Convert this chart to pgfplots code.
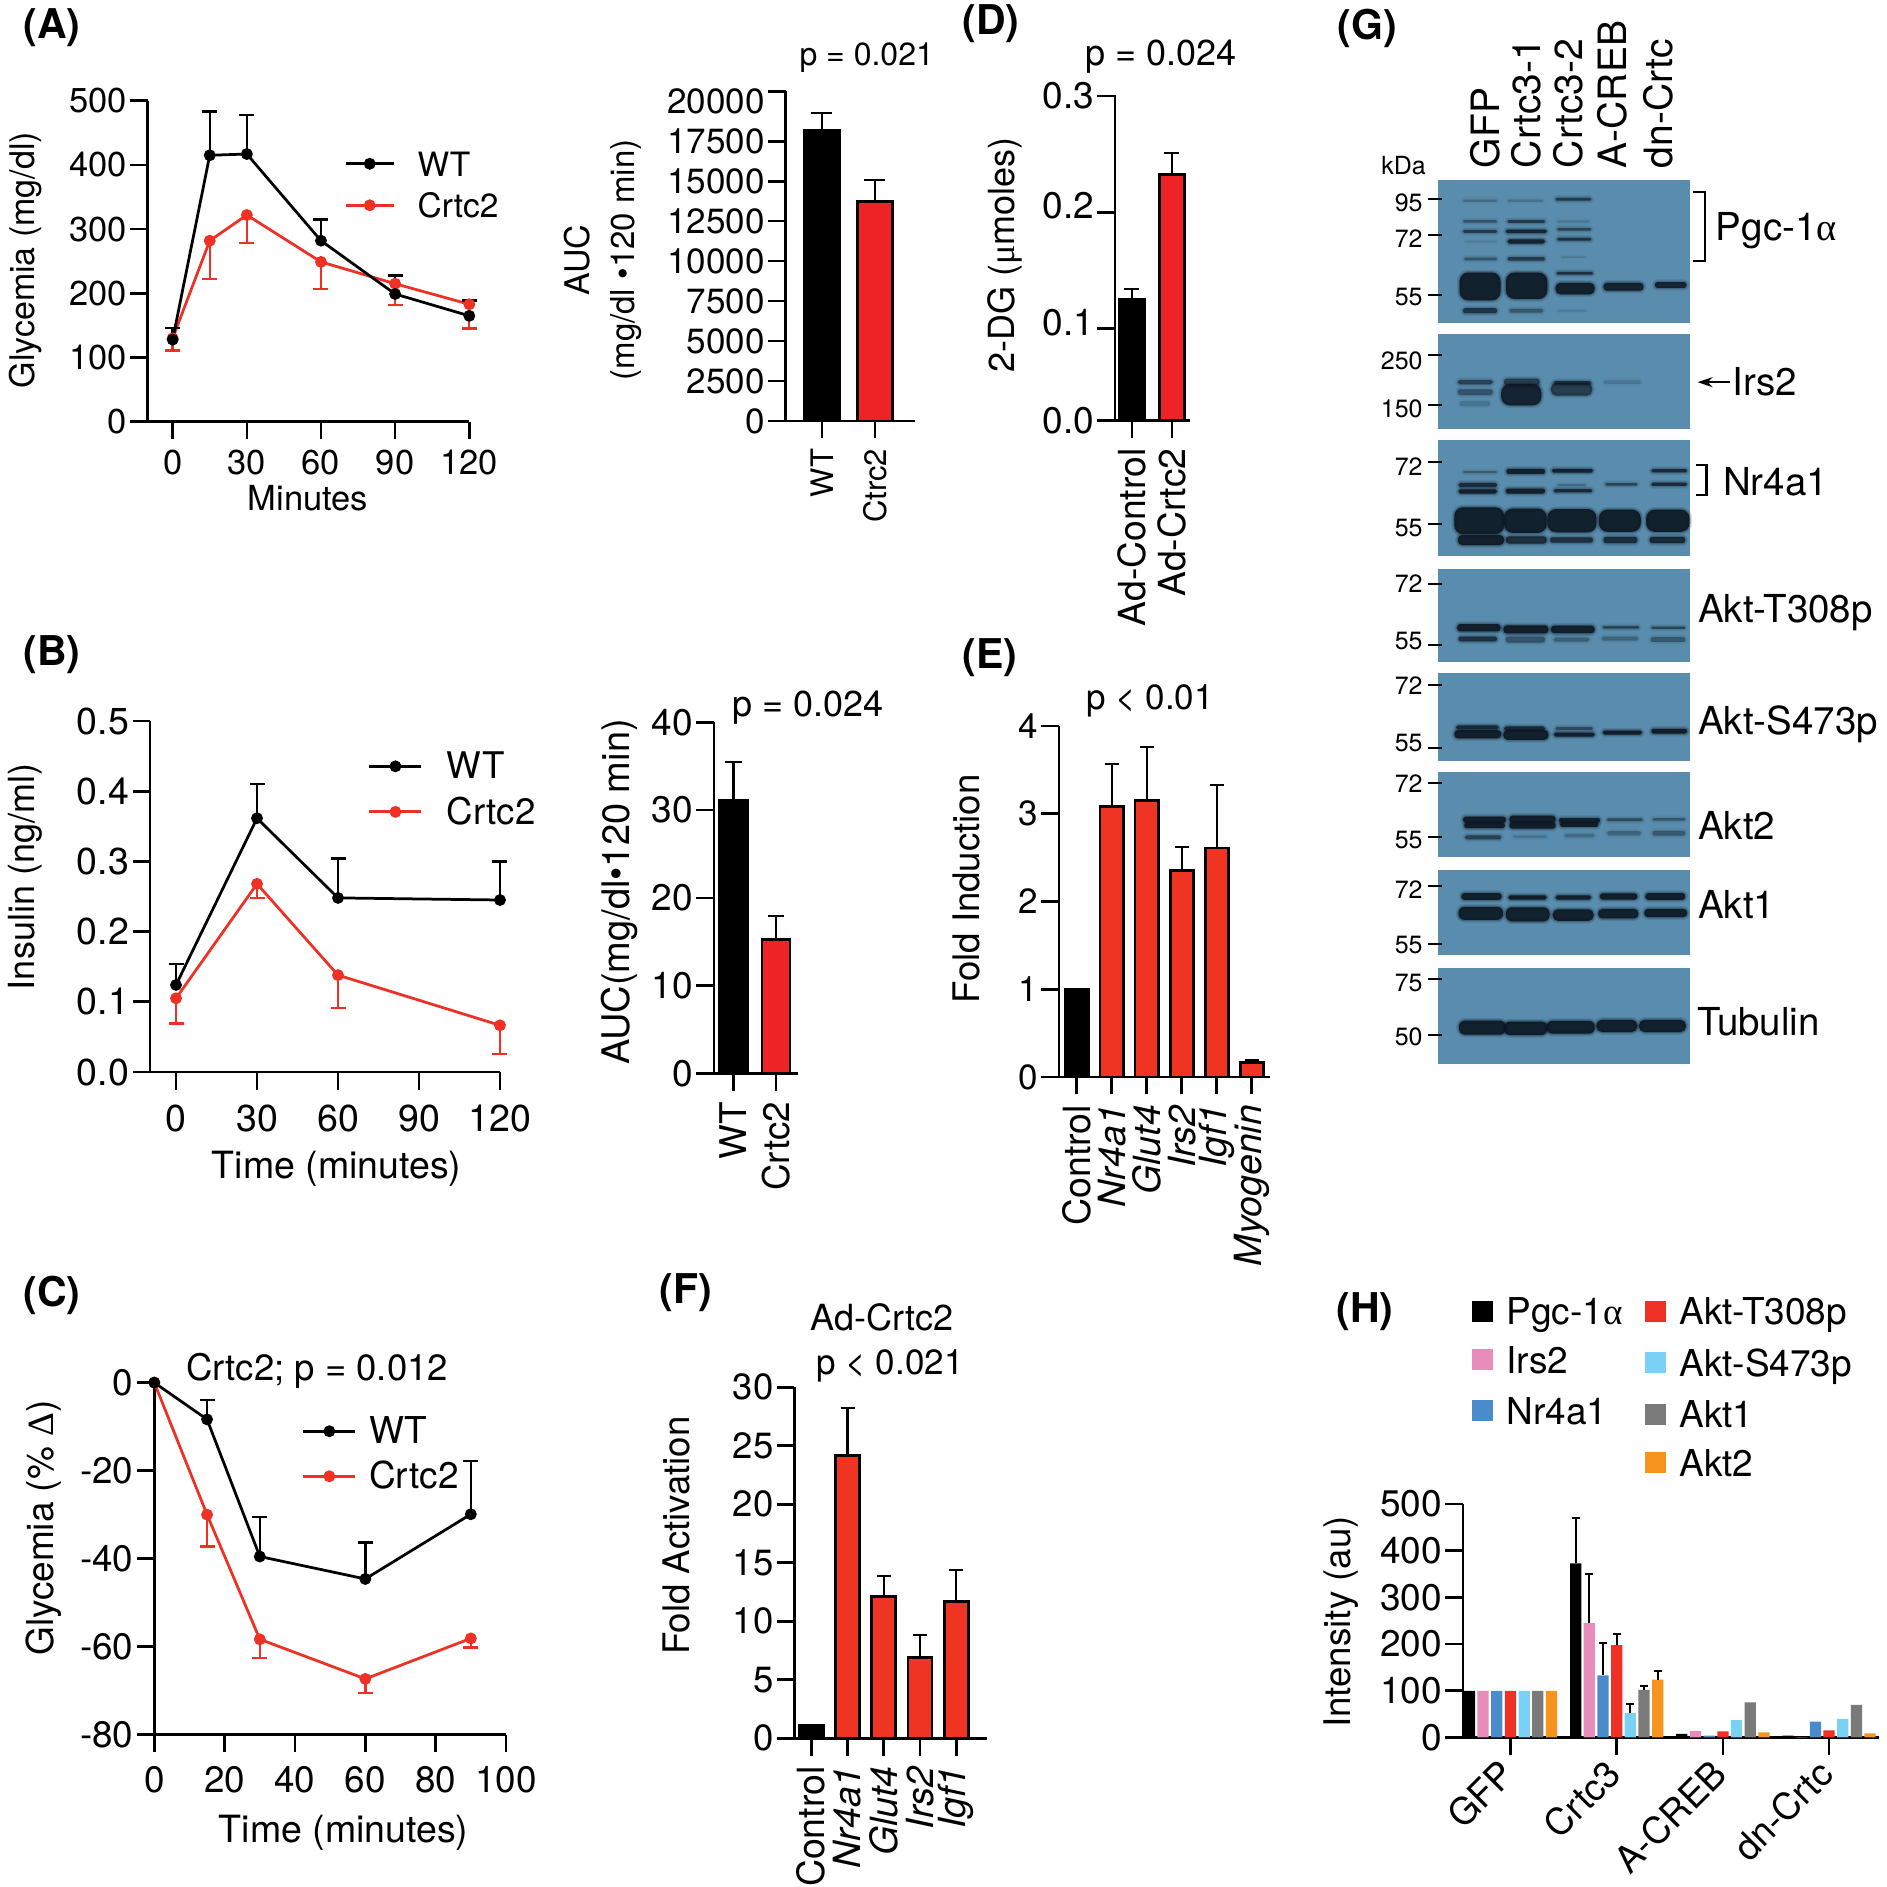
\documentclass[border=0pt]{standalone}
\usepackage{fontspec}
\setmainfont{TeX Gyre Heros}
\newfontfamily\sym{Liberation Serif}
\usepackage{pgfplots}
\pgfplotsset{compat=1.18}
\usetikzlibrary{arrows.meta}

\definecolor{linered}{HTML}{EE3124}
\definecolor{barred}{HTML}{EE2326}
\definecolor{barredb}{HTML}{F03424}
\definecolor{blot}{HTML}{5A8DAD}
\definecolor{band}{HTML}{0B1520}
\definecolor{hpink}{HTML}{E88CBB}
\definecolor{hblue}{HTML}{4A8CCB}
\definecolor{hsky}{HTML}{7BD0F5}
\definecolor{hgray}{HTML}{7A7A7A}
\definecolor{horange}{HTML}{F7941E}

% font size in pixels of the reference (1 px = 0.4 pt)
\newcommand{\fz}[1]{\fontsize{\fpeval{#1*0.4}}{\fpeval{#1*0.48}}\selectfont}
\newcommand{\T}[5][]{\node[inner sep=0pt,anchor=mid,#1] at ({#2*0.4pt},{-#3*0.4pt}) {\fz{#4}#5};}
\newcommand{\PL}[3]{\node[inner sep=0pt,anchor=mid west] at ({#1*0.4pt},{-(#2+5)*0.4pt}) {\fz{41}\bfseries (#3)};}

\pgfplotsset{
  pbox/.style n args={4}{scale only axis,anchor=south west,
    at={({#1*0.4pt},{-#4*0.4pt})},
    width={(#2-#1)*0.4pt},height={(#4-#3)*0.4pt}},
  panel/.style={
    axis lines*=left,axis line style={-,line width=1.05pt},
    tick style={black,line width=1.05pt},major tick length=7pt,tick align=outside,
    clip=false,scaled ticks=false,
    /pgf/number format/assume math mode=true,/pgf/number format/1000 sep={},
    x tick label style={inner sep=0pt,yshift=-4pt},
    y tick label style={inner sep=0pt,xshift=-1.2pt},
  },
  ll/.style n args={3}{legend cell align=left,
    legend style={draw=none,fill=none,inner sep=0pt,anchor=west,row sep=#3,
      nodes={inner sep=0pt,text height=10pt,text depth=0pt}},
    reverse legend,
    legend image code/.code={\draw[##1,mark repeat=2,mark phase=2] plot coordinates {(0pt,0pt)(#1,0pt)(#2,0pt)};}},
  wt/.style={black,line width=1.1pt,mark=*,mark size=1.8pt,
    error bars/y dir=plus,error bars/y explicit,
    error bars/error bar style={line width=.95pt},
    error bars/error mark options={rotate=90,black,mark size=3pt,line width=.95pt}},
  ko/.style={linered,line width=1.1pt,mark=*,mark size=1.8pt,
    error bars/y dir=minus,error bars/y explicit,
    error bars/error bar style={line width=.95pt},
    error bars/error mark options={rotate=90,linered,mark size=3pt,line width=.95pt}},
  bar/.style n args={3}{ybar,bar shift=0pt,bar width=#1,fill=#2,draw=black,line width=1.1pt,
    error bars/y dir=plus,error bars/y explicit,
    error bars/error bar style={black,line width=.85pt},
    error bars/error mark options={rotate=90,black,mark size=#3,line width=.85pt}},
  hb/.style n args={2}{ybar,bar shift=#1,bar width=4.5pt,fill=#2,draw=none},
  he/.style={draw=none,mark=none,forget plot,
    error bars/y dir=plus,error bars/y explicit,
    error bars/error bar style={black,line width=.8pt},
    error bars/error mark options={rotate=90,black,mark size=1.6pt,line width=.8pt}},
  ov/.style n args={6}{pbox={#1}{#2}{#3}{#4},xmin=0,xmax=#5,ymin=0,ymax=#6,y dir=reverse,hide axis,clip=false},
}

% one blot band, in crop units: x1 x2 y thickness strength
\newcommand{\band}[5]{%
  \pgfmathsetmacro{\bt}{#3-0.5*#4}\pgfmathsetmacro{\bu}{#3+0.5*#4}%
  \addplot[fill=band,draw=band,line join=round,line width=2.2pt,opacity=#5*0.13,rounded corners={min(#4*0.06,3.5)*1pt}] coordinates {(#1,\bt)(#2,\bt)(#2,\bu)(#1,\bu)} --cycle;
  \addplot[fill=band,draw=band,line join=round,line width=1.1pt,opacity=#5*0.22,rounded corners={min(#4*0.06,3.5)*1pt}] coordinates {(#1,\bt)(#2,\bt)(#2,\bu)(#1,\bu)} --cycle;
  \addplot[fill=band,draw=none,opacity=#5*0.85,rounded corners={min(#4*0.06,3.5)*1pt}] coordinates {(#1,\bt)(#2,\bt)(#2,\bu)(#1,\bu)} --cycle;
}
\newcommand{\panelrect}[2]{\addplot[fill=blot,draw=none] coordinates {(305,#1)(1013,#1)(1013,#2)(305,#2)} --cycle;}
\newcommand{\kd}[3]{%
  \addplot[black,line width=.85pt] coordinates {(275,#1)(315,#1)};
  \node[inner sep=0pt,anchor=mid east,yshift=-1pt] at (axis cs:262,#2) {\fz{25}#3};}
\newcommand{\ZL}[4][38.5]{\node[inner sep=0pt,anchor=mid west,yshift=-2.8pt] at (axis cs:#2,#3) {\fz{#1}#4};}
\newcommand{\lane}[2]{\node[inner sep=0pt,anchor=mid west,rotate=90] at (axis cs:#1,472) {\fz{39}#2};}

\begin{document}
\begin{tikzpicture}
\path[use as bounding box,fill=white] (0,0) rectangle (754.8pt,-754.8pt);

% ---------- (A)
\PL{23}{27}{A}
\begin{axis}[pbox={147.7}{469.3}{100.7}{421.8},panel,ll={9.6pt}{19.2pt}{6.6pt},
  xmin=-10.1,xmax=120,ymin=0,ymax=500,
  xtick={0,30,60,90,120},ytick={0,100,200,300,400,500},
  tick label style={font=\fz{34.5}},
  legend style={at={(axis description cs:0.61,0.739)},font=\fz{33.5}}]
\addplot[ko] coordinates {(0,130) +- (0,19) (15,282) +- (0,60) (30,322) +- (0,44) (60,249) +- (0,42) (90,215) +- (0,33) (120,183) +- (0,38)};
\addlegendentry{\hspace{9pt}Crtc2}
\addplot[wt] coordinates {(0,128) +- (0,18) (15,415) +- (0,68) (30,417) +- (0,61) (60,282) +- (0,33) (90,199) +- (0,29) (120,165) +- (0,24)};
\addlegendentry{\hspace{9pt}WT}
\end{axis}
\T[rotate=90]{28}{260}{34}{Glycemia (mg/dl)}
\T{308}{503.5}{34.5}{Minutes}

% ---------- (A) AUC
\begin{axis}[pbox={785.7}{915}{91.3}{420.9},panel,
  xmin=-0.685,xmax=1.755,ymin=0,ymax=20625,
  xtick={0,1},xticklabels={WT,Ctrc2},
  ytick={0,2500,5000,7500,10000,12500,15000,17500,20625},
  yticklabels={0,2500,5000,7500,10000,12500,15000,17500,\raisebox{-4pt}[10pt][0pt]{20000}},
  y tick label style={font=\fz{35}},
  x tick label style={font=\fz{31},rotate=90,anchor=east}]
\addplot[bar={14.2pt}{black}{4.2pt}] coordinates {(0,18190) +- (0,1077)};
\addplot[bar={14.2pt}{barred}{4.2pt}] coordinates {(1,13730) +- (0,1335)};
\end{axis}
\T[rotate=90]{583}{260}{34}{AUC}
\T[rotate=90]{628}{260}{33}{(mg/dl •120 min)}
\T{866.7}{58.5}{32}{p = 0.021}

% ---------- (B)
\PL{23}{654}{B}
\begin{axis}[pbox={150.1}{500}{721}{1072},panel,ll={10.4pt}{20.8pt}{8.2pt},
  xmin=-9.6,xmax=120,ymin=0,ymax=0.5,
  xtick={0,30,60,90,120},ytick={0,0.1,0.2,0.3,0.4,0.5},
  x tick label style={yshift=-2pt},
  y tick label style={/pgf/number format/fixed,/pgf/number format/fixed zerofill,/pgf/number format/precision=1},
  tick label style={font=\fz{37.5}},
  legend style={at={(axis description cs:0.6216,0.806)},font=\fz{36.7}}]
\addplot[ko] coordinates {(0,0.105) +- (0,0.036) (30,0.268) +- (0,0.020) (60,0.138) +- (0,0.047) (120,0.0665) +- (0,0.0405)};
\addlegendentry{\hspace{9.6pt}Crtc2}
\addplot[wt] coordinates {(0,0.124) +- (0,0.030) (30,0.3615) +- (0,0.0485) (60,0.248) +- (0,0.056) (120,0.245) +- (0,0.055)};
\addlegendentry{\hspace{9.6pt}WT}
\end{axis}
\T[rotate=90]{28}{877}{36}{Insulin (ng/ml)}
\T{336.7}{1172}{37.5}{Time (minutes)}

% ---------- (B) AUC
\begin{axis}[pbox={714}{798.3}{722.3}{1073.6},panel,
  xmin=-0.459,xmax=1.525,ymin=0,ymax=40,
  xtick={0,1},xticklabels={WT,Crtc2},ytick={0,10,20,30,40},
  y tick label style={font=\fz{37}},
  x tick label style={font=\fz{36.8},rotate=90,anchor=east}]
\addplot[bar={11.2pt}{black}{3.3pt}] coordinates {(0,31.1) +- (0,4.35)};
\addplot[bar={11.2pt}{barred}{3.3pt}] coordinates {(1,15.25) +- (0,2.71)};
\end{axis}
\T[rotate=90]{623}{892}{38}{AUC(mg/dl•120 min)}
\T{808}{709.5}{36}{p = 0.024}

% ---------- (C)
\PL{23}{1295}{C}
\begin{axis}[pbox={154.3}{506}{1382.6}{1734.8},panel,ll={10.4pt}{20.8pt}{8pt},
  xmin=0,xmax=100,ymin=-80,ymax=0,
  xtick={0,20,40,60,80,100},ytick={-80,-60,-40,-20,0},
  x tick label style={yshift=-1.5pt},
  tick label style={font=\fz{36.8}},
  legend style={at={(axis description cs:0.4185,0.798)},font=\fz{37}}]
\addplot[ko] coordinates {(0,0) (15,-30) +- (0,7.2) (30,-58.3) +- (0,4.2) (60,-67.3) +- (0,3.2) (90,-58.1) +- (0,2.1)};
\addlegendentry{\hspace{5pt}Crtc2}
\addplot[wt] coordinates {(0,0) (15,-8.35) +- (0,4.35) (30,-39.5) +- (0,9) (60,-44.6) +- (0,8.3) (90,-29.9) +- (0,12.1)};
\addlegendentry{\hspace{5pt}WT}
\end{axis}
\T[rotate=90]{47}{1528}{37}{Glycemia (\% {\sym Δ})}
\T{317}{1373.5}{36.5}{Crtc2; p = 0.012}
\T{343.7}{1836}{37.5}{Time (minutes)}

% ---------- (D)
\PL{962}{23}{D}
\begin{axis}[pbox={1115}{1190}{94.7}{420.4},panel,clip=true,
  xmin=-0.425,xmax=1.45,ymin=0.0211,ymax=0.301,
  xtick={0,1},xticklabels={Ad-Control,Ad-Crtc2},
  ytick={0.0211,0.1,0.2,0.3},yticklabels={0.0,\raisebox{2.4pt}[10pt][0pt]{0.1},\raisebox{2.4pt}[10pt][0pt]{0.2},0.3},
  y tick label style={font=\fz{37}},
  x tick label style={font=\fz{37.3},rotate=90,anchor=east}]
\addplot[bar={9.9pt}{black}{3pt}] coordinates {(0,0.1253) +- (0,0.0091)};
\addplot[bar={9.9pt}{barred}{3pt}] coordinates {(1,0.2326) +- (0,0.0183)};
\end{axis}
\T[rotate=90]{1008}{255}{36}{2-DG ({\sym μ}moles)}
\T{1161}{58.5}{36}{p = 0.024}

% ---------- (E)
\PL{962}{657}{E}
\begin{axis}[pbox={1059}{1270}{725.9}{1077},panel,
  xmin=-0.506,xmax=5.52,ymin=0,ymax=4,
  xtick={0,1,2,3,4,5},ytick={0,1,2,3,4},
  xticklabels={Control,\textit{Nr4a1},\textit{Glut4},\textit{Irs2},\textit{Igf1},\textit{Myogenin}},
  y tick label style={font=\fz{35}},
  x tick label style={font=\fz{37.5},rotate=90,anchor=east}]
\addplot[bar={9.3pt}{black}{2.8pt}] coordinates {(0,1.0) +- (0,0)};
\addplot[bar={9.3pt}{barredb}{2.8pt}] coordinates {(1,3.08) +- (0,0.49) (2,3.15) +- (0,0.61) (3,2.35) +- (0,0.27) (4,2.61) +- (0,0.72) (5,0.163) +- (0,0.032)};
\end{axis}
\T[rotate=90]{973}{889}{36.6}{Fold Induction}
\T{1150}{702.5}{35}{p < 0.01}

% ---------- (F)
\PL{659}{1292}{F}
\begin{axis}[pbox={794.3}{987.3}{1387.3}{1738.3},panel,
  xmin=-0.469,xmax=4.855,ymin=0,ymax=30,
  xtick={0,1,2,3,4},ytick={0,5,10,15,20,25,30},
  xticklabels={Control,\textit{Nr4a1},\textit{Glut4},\textit{Irs2},\textit{Igf1}},
  y tick label style={font=\fz{36.5}},
  x tick label style={font=\fz{37.5},rotate=90,anchor=east}]
\addplot[bar={9.6pt}{black}{2.8pt}] coordinates {(0,1.1) +- (0,0)};
\addplot[bar={9.6pt}{barredb}{2.8pt}] coordinates {(1,24.2) +- (0,4.0) (2,12.14) +- (0,1.76) (3,6.9) +- (0,1.95) (4,11.7) +- (0,2.7)};
\end{axis}
\T[rotate=90]{683}{1535.6}{36.6}{Fold Activation}
\T{882}{1323.5}{36}{Ad-Crtc2}
\T{890}{1367.5}{35}{p < 0.021}

% ---------- (G) blots, upper crop
\PL{1337}{28}{G}
\begin{axis}[ov={1330}{1887}{0}{560}{1568}{1568}]
\panelrect{505}{905}
\band{375}{470}{562}{6}{.2}\band{500}{600}{562}{6}{.15}\band{635}{735}{558}{8}{.6}
\band{375}{470}{620}{7}{.35}\band{500}{605}{620}{8}{.6}\band{640}{730}{620}{5}{.15}
\band{375}{470}{648}{8}{.6}\band{495}{610}{648}{10}{.85}\band{640}{735}{642}{7}{.5}
\band{380}{470}{676}{4}{.1}\band{500}{605}{676}{12}{.9}\band{640}{735}{670}{8}{.7}
\band{378}{470}{725}{8}{.35}\band{500}{605}{725}{10}{.6}\band{650}{720}{720}{4}{.1}
\band{365}{480}{802}{78}{1}\band{495}{612}{800}{74}{1}
\band{635}{745}{808}{32}{1}\band{638}{740}{765}{8}{.7}
\band{770}{882}{803}{22}{.95}\band{915}{1003}{798}{16}{.9}
\band{375}{470}{870}{14}{.7}\band{505}{600}{870}{10}{.35}\band{640}{720}{870}{5}{.1}
\panelrect{935}{1200}
\band{360}{458}{1070}{12}{.55}\band{360}{458}{1098}{16}{.4}\band{365}{450}{1130}{14}{.15}
\band{482}{595}{1105}{60}{.95}\band{490}{590}{1070}{20}{.6}
\band{622}{738}{1090}{36}{.65}\band{630}{735}{1072}{10}{.7}
\band{770}{875}{1070}{10}{.12}
\panelrect{1233}{1557}
\band{375}{470}{1322}{6}{.3}\band{497}{605}{1320}{14}{.95}\band{625}{740}{1318}{10}{.9}\band{905}{1005}{1318}{9}{.8}
\band{362}{470}{1358}{12}{.8}\band{640}{720}{1358}{5}{.2}\band{775}{865}{1356}{7}{.5}\band{905}{1005}{1356}{9}{.8}
\band{362}{470}{1376}{12}{.95}\band{495}{605}{1375}{14}{.95}\band{630}{738}{1374}{9}{.8}
\band{350}{490}{1458}{75}{1}\band{490}{610}{1458}{68}{1}\band{612}{750}{1458}{65}{1}\band{757}{875}{1458}{62}{1}\band{890}{1012}{1458}{62}{1}
\band{360}{490}{1512}{28}{1}\band{495}{610}{1512}{20}{.8}\band{620}{740}{1512}{15}{.75}\band{770}{865}{1512}{18}{.8}\band{900}{1000}{1512}{18}{.85}
\kd{558}{568}{95}\kd{658}{668}{72}\kd{826}{830}{55}
\kd{995}{1010}{250}\kd{1135}{1145}{150}
\kd{1293}{1305}{72}\kd{1468}{1478}{55}
\addplot[black,line width=.85pt] coordinates {(1022,538)(1055,538)(1055,732)(1022,732)};
\addplot[black,line width=.85pt] coordinates {(1030,1302)(1060,1302)(1060,1385)(1030,1385)};
\addplot[black,line width=.6pt,-{Stealth[length=6pt,width=4pt]}] coordinates {(1125,1070)(1035,1070)};
\ZL{1085}{635}{Pgc-1{\sym α}}
\ZL{1132}{1070}{Irs2}
\ZL{1105}{1350}{Nr4a1}
\node[inner sep=0pt,anchor=mid,yshift=-1pt] at (axis cs:207,462) {\fz{25}kDa};
\lane{460}{GFP}\lane{575}{Crtc3-1}\lane{692}{Crtc3-2}\lane{817}{A-CREB}\lane{945}{dn-Crtc}
\end{axis}

% ---------- (G) blots, lower crop
\begin{axis}[ov={1330}{1887}{550}{1080}{1568}{1568}]
\panelrect{55}{330}
\band{358}{480}{230}{22}{1}\band{488}{615}{235}{24}{1}\band{622}{745}{235}{22}{1}\band{768}{870}{229}{6}{.6}\band{905}{1000}{230}{6}{.5}
\band{362}{470}{263}{14}{.75}\band{495}{605}{265}{18}{.4}\band{630}{730}{265}{12}{.3}\band{765}{868}{262}{12}{.25}\band{903}{1000}{265}{14}{.35}
\panelrect{365}{625}
\band{355}{475}{525}{12}{.8}\band{490}{605}{528}{12}{.8}\band{635}{740}{528}{8}{.45}
\band{350}{482}{545}{24}{1}\band{488}{615}{547}{30}{1}\band{630}{745}{546}{12}{.95}\band{768}{878}{540}{12}{1}\band{905}{1005}{536}{14}{1}
\panelrect{657}{908}
\band{375}{495}{798}{18}{1}\band{505}{635}{797}{22}{1}\band{645}{760}{800}{14}{.95}\band{780}{880}{798}{8}{.45}\band{908}{1000}{797}{7}{.35}
\band{378}{492}{815}{16}{1}\band{505}{635}{815}{18}{1}\band{648}{755}{812}{14}{1}
\band{380}{482}{850}{12}{.55}\band{515}{610}{848}{8}{.15}\band{660}{745}{845}{10}{.2}\band{780}{875}{838}{12}{.25}\band{908}{1000}{838}{14}{.35}
\panelrect{947}{1198}
\band{370}{483}{1025}{20}{1}\band{502}{610}{1028}{13}{1}\band{635}{735}{1028}{13}{.95}\band{760}{865}{1025}{18}{1}\band{888}{1000}{1025}{20}{1}
\band{362}{487}{1075}{38}{1}\band{495}{618}{1078}{42}{1}\band{627}{742}{1080}{34}{1}\band{755}{868}{1076}{28}{1}\band{885}{1005}{1074}{24}{1}
\panelrect{1238}{1520}
\band{363}{495}{1413}{42}{1}\band{490}{612}{1415}{40}{1}\band{610}{745}{1412}{38}{1}\band{750}{865}{1408}{36}{1}\band{870}{1002}{1408}{36}{1}
\kd{100}{100}{72}\kd{280}{268}{55}
\kd{400}{400}{72}\kd{585}{570}{55}
\kd{690}{692}{72}\kd{850}{855}{55}
\kd{995}{1005}{72}\kd{1165}{1168}{55}
\kd{1270}{1278}{75}\kd{1435}{1440}{50}
\ZL{1035}{175}{Akt-T308p}
\ZL{1035}{505}{Akt-S473p}
\ZL{1035}{815}{Akt2}
\ZL{1035}{1050}{Akt1}
\ZL{1032}{1395}{Tubulin}
\end{axis}

% ---------- (H)
\PL{1336}{1311}{H}
\begin{axis}[ov={1300}{1887}{1270}{1887}{1568}{1568}]
\addplot[only marks,mark=square*,mark size=4pt,black] coordinates {(488,105)};
\addplot[only marks,mark=square*,mark size=4pt,hpink] coordinates {(488,228)};
\addplot[only marks,mark=square*,mark size=4pt,hblue] coordinates {(488,358)};
\addplot[only marks,mark=square*,mark size=4pt,linered] coordinates {(950,105)};
\addplot[only marks,mark=square*,mark size=4pt,hsky] coordinates {(950,236)};
\addplot[only marks,mark=square*,mark size=4pt,hgray] coordinates {(950,367)};
\addplot[only marks,mark=square*,mark size=4pt,horange] coordinates {(950,490)};
\ZL[37]{550}{105}{Pgc-1{\sym α}}
\ZL[37]{550}{228}{Irs2}
\ZL[37]{550}{358}{Nr4a1}
\ZL[37]{1012}{105}{Akt-T308p}
\ZL[37]{1012}{236}{Akt-S473p}
\ZL[37]{1012}{367}{Akt1}
\ZL[37]{1012}{490}{Akt2}
\end{axis}
\begin{axis}[pbox={1463}{1878.8}{1504}{1737.5},panel,
  xmin=-0.447,xmax=3.468,ymin=0,ymax=500,
  xtick={0,1,2,3},xticklabels={GFP,Crtc3,A-CREB,dn-Crtc},ytick={0,100,200,300,400,500},
  y tick label style={font=\fz{37}},
  x tick label style={font=\fz{37},rotate=45,anchor=north east,xshift=-1.3pt,yshift=6.1pt}]
\addplot[hb={-16.41pt}{black}] coordinates {(0,100)(1,373)(2,8)(3,4)};
\addplot[hb={-10.94pt}{hpink}] coordinates {(0,100)(1,245)(2,14)(3,1)};
\addplot[hb={-5.47pt}{hblue}] coordinates {(0,100)(1,133)(2,4)(3,34)};
\addplot[hb={0pt}{linered}] coordinates {(0,100)(1,198)(2,13)(3,15)};
\addplot[hb={5.47pt}{hsky}] coordinates {(0,100)(1,52)(2,37)(3,40)};
\addplot[hb={10.94pt}{hgray}] coordinates {(0,100)(1,102)(2,75)(3,70)};
\addplot[hb={16.41pt}{horange}] coordinates {(0,100)(1,124)(2,11)(3,9)};
\addplot[he] coordinates {(0.614,373) +- (0,97)};
\addplot[he] coordinates {(0.743,245) +- (0,105)};
\addplot[he] coordinates {(0.871,133) +- (0,70)};
\addplot[he] coordinates {(1,198) +- (0,24)};
\addplot[he] coordinates {(1.129,52) +- (0,20)};
\addplot[he] coordinates {(1.257,102) +- (0,8)};
\addplot[he] coordinates {(1.386,124) +- (0,18)};
\end{axis}
\T[rotate=90]{1344}{1622}{36.7}{Intensity (au)}
\end{tikzpicture}
\end{document}
